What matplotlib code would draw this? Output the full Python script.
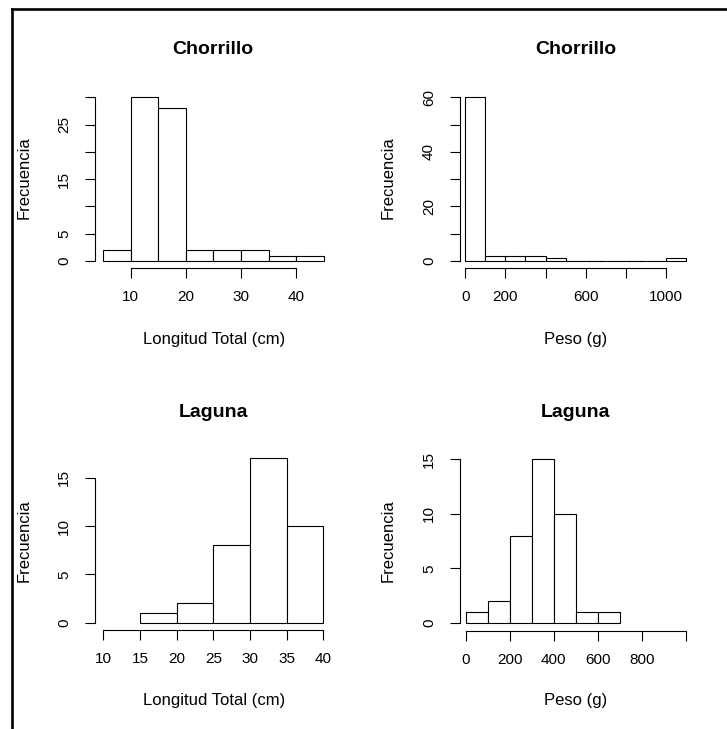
import numpy as np
import matplotlib
matplotlib.use("Agg")
import matplotlib.pyplot as plt
from matplotlib.lines import Line2D

plt.rcParams['font.family'] = ['Liberation Sans', 'DejaVu Sans']

# Histogram data (breaks and counts)
cho_len_breaks = [5, 10, 15, 20, 25, 30, 35, 40, 45]
cho_len_counts = [2, 30, 28, 2, 2, 2, 1, 1]

cho_peso_breaks = [0, 100, 200, 300, 400, 500, 600, 700, 800, 900, 1000, 1100]
cho_peso_counts = [60, 2, 2, 2, 1, 0, 0, 0, 0, 0, 1]

lag_len_breaks = [15, 20, 25, 30, 35, 40]
lag_len_counts = [1, 2, 8, 17, 10]

lag_peso_breaks = [0, 100, 200, 300, 400, 500, 600, 700]
lag_peso_counts = [1, 2, 8, 15, 10, 1, 1]

titles = ["Chorrillo", "Chorrillo", "Laguna", "Laguna"]
xlabels = ["Longitud Total (cm)", "Peso (g)", "Longitud Total (cm)", "Peso (g)"]
ylabel = "Frecuencia"

# ticks and which labels R kept
p1_xticks, p1_xlabs = [10, 20, 30, 40], ["10", "20", "30", "40"]
p1_yticks, p1_ylabs = [0, 5, 10, 15, 20, 25, 30], ["0", "5", "", "15", "", "25", ""]
p2_xticks, p2_xlabs = [0, 200, 400, 600, 800, 1000], ["0", "200", "", "600", "", "1000"]
p2_yticks, p2_ylabs = [0, 10, 20, 30, 40, 50, 60], ["0", "", "20", "", "40", "", "60"]
p3_xticks, p3_xlabs = [10, 15, 20, 25, 30, 35, 40], ["10", "15", "20", "25", "30", "35", "40"]
p3_yticks, p3_ylabs = [0, 5, 10, 15], ["0", "5", "10", "15"]
p4_xticks, p4_xlabs = [0, 200, 400, 600, 800, 1000], ["0", "200", "400", "600", "800", ""]
p4_yticks, p4_ylabs = [0, 5, 10, 15], ["0", "5", "10", "15"]

W, H = 727, 729
fig = plt.figure(figsize=(W / 100, H / 100), dpi=100)
fig.patch.set_facecolor("white")

LW = 0.8


def make_axes(box, xa, ya):
    # box = (left, right, top, bottom) in pixels; xa/ya = two (pixel, value) anchors
    L, R, T, B = box
    ax = fig.add_axes([L / W, 1 - B / H, (R - L) / W, (B - T) / H])
    (px0, v0), (px1, v1) = xa
    sx = (v1 - v0) / (px1 - px0)
    ax.set_xlim(v0 + (L - px0) * sx, v0 + (R - px0) * sx)
    (py0, w0), (py1, w1) = ya
    sy = (w1 - w0) / (py1 - py0)
    ax.set_ylim(w0 + (B - py0) * sy, w0 + (T - py0) * sy)
    return ax


def draw_hist(ax, breaks, counts, xticks, xlabs, yticks, ylabs):
    breaks = np.asarray(breaks, dtype=float)
    ax.bar(breaks[:-1], counts, width=np.diff(breaks), align='edge',
           facecolor='white', edgecolor='black', linewidth=LW)
    ax.patch.set_visible(False)
    for s in ['top', 'right']:
        ax.spines[s].set_visible(False)
    ax.spines['left'].set_linewidth(LW)
    ax.spines['bottom'].set_linewidth(LW)
    ax.spines['left'].set_bounds(yticks[0], yticks[-1])
    ax.spines['bottom'].set_bounds(xticks[0], xticks[-1])
    ax.set_xticks(xticks)
    ax.set_xticklabels(xlabs)
    ax.set_yticks(yticks)
    ax.set_yticklabels(ylabs, rotation=90, va='center')
    ax.tick_params(axis='both', length=7.2, width=LW, labelsize=11, color='black')
    ax.tick_params(axis='x', pad=8.5)
    ax.tick_params(axis='y', pad=10)


ax1 = make_axes((95, 333, 91, 268), ((103.3, 5), (323.7, 45)), ((261, 0), (97.3, 30)))
draw_hist(ax1, cho_len_breaks, cho_len_counts, p1_xticks, p1_xlabs, p1_yticks, p1_ylabs)

ax2 = make_axes((460, 692, 91, 268), ((465.2, 0), (666, 1000)), ((261, 0), (97.3, 60)))
draw_hist(ax2, cho_peso_breaks, cho_peso_counts, p2_xticks, p2_xlabs, p2_yticks, p2_ylabs)

ax3 = make_axes((95, 333, 452, 630), ((103.3, 10), (323.3, 40)), ((622.7, 0), (477.7, 15)))
draw_hist(ax3, lag_len_breaks, lag_len_counts, p3_xticks, p3_xlabs, p3_yticks, p3_ylabs)

ax4 = make_axes((460, 692, 452, 630.7), ((465.7, 0), (686, 1000)), ((623, 0), (459, 15)))
draw_hist(ax4, lag_peso_breaks, lag_peso_counts, p4_xticks, p4_xlabs, p4_yticks, p4_ylabs)

# titles and axis labels (pixel centres)
title_pos = [(213, 49), (576, 49), (213, 412), (576, 412)]
xlab_pos = [(214, 340), (576, 340), (214, 700), (576, 700)]
ylab_pos = [(24, 178), (388, 178), (24, 541), (388, 541)]

for (tx, ty), t in zip(title_pos, titles):
    fig.text(tx / W, 1 - ty / H, t, ha='center', va='center', fontsize=14, fontweight='bold')
for (lx, ly), t in zip(xlab_pos, xlabels):
    fig.text(lx / W, 1 - ly / H, t, ha='center', va='center', fontsize=12)
for (yx, yy) in ylab_pos:
    fig.text(yx / W, 1 - yy / H, ylabel, ha='center', va='center', fontsize=12, rotation=90)

# frame of the original screenshot (top and left edges)
fig.add_artist(Line2D([11.5 / W, 1], [1 - 8.5 / H, 1 - 8.5 / H], color='black', lw=1.9,
                      transform=fig.transFigure, solid_capstyle='projecting'))
fig.add_artist(Line2D([11.5 / W, 11.5 / W], [1 - 8.5 / H, 0], color='black', lw=1.9,
                      transform=fig.transFigure, solid_capstyle='projecting'))

fig.savefig("out.png", dpi=100, facecolor='white')
